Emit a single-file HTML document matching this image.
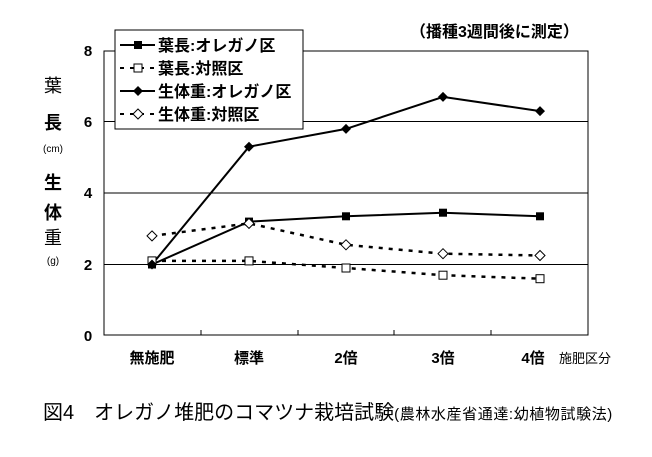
<!DOCTYPE html>
<html><head><meta charset="utf-8"><style>
body{margin:0;background:#fff;}
svg{display:block;}
text{font-family:"Liberation Sans","Noto Sans CJK JP",sans-serif;}
.b{font-weight:bold;}
</style></head><body>
<svg width="652" height="457" viewBox="0 0 652 457">
<rect width="652" height="457" fill="#fff"/>
<g stroke="#000" stroke-width="1">
<line x1="104" y1="121.5" x2="588" y2="121.5"/>
<line x1="104" y1="193" x2="588" y2="193"/>
<line x1="104" y1="264.5" x2="588" y2="264.5"/>
<rect x="104" y="51" width="484" height="284" fill="none"/>
<line x1="201" y1="335" x2="201" y2="330"/>
<line x1="298" y1="335" x2="298" y2="330"/>
<line x1="394" y1="335" x2="394" y2="330"/>
<line x1="491" y1="335" x2="491" y2="330"/>
</g>
<g class="b" font-size="15" text-anchor="middle">
<text x="88" y="56">8</text>
<text x="88" y="127">6</text>
<text x="88" y="198">4</text>
<text x="88" y="270">2</text>
<text x="88" y="341">0</text>
</g>
<g font-size="18" text-anchor="middle">
<text x="53" y="92">葉</text>
<text x="53" y="129" class="b">長</text>
<text x="53" y="152" font-size="10">(cm)</text>
<text x="53" y="189" class="b">生</text>
<text x="53" y="219" class="b">体</text>
<text x="53" y="244">重</text>
<text x="53" y="264" font-size="10">(g)</text>
</g>
<g class="b" font-size="15" text-anchor="middle">
<text x="152" y="363">無施肥</text>
<text x="249" y="363">標準</text>
<text x="346" y="363">2倍</text>
<text x="443" y="363">3倍</text>
<text x="533" y="363">4倍</text>
</g>
<text x="559" y="363" font-size="13">施肥区分</text>
<text x="410" y="37" class="b" font-size="16">（播種3週間後に測定）</text>
<g fill="none" stroke="#000" stroke-width="2">
<polyline points="152,264.5 249,221.6 346,216.3 443,212.7 540,216.3"/>
<polyline stroke-dasharray="4,6" stroke-width="2.5" points="152,260.9 249,260.9 346,268 443,275.2 540,278.7"/>
<polyline points="152,264.5 249,146.7 346,128.9 443,96.9 540,111.1"/>
<polyline stroke-dasharray="4,6" stroke-width="2.5" points="152,235.9 249,223.4 346,244.8 443,253.7 540,255.5"/>
</g>
<g fill="#000">
<rect x="148" y="260.5" width="8" height="8"/><rect x="245" y="217.6" width="8" height="8"/><rect x="342" y="212.3" width="8" height="8"/><rect x="439" y="208.7" width="8" height="8"/><rect x="536" y="212.3" width="8" height="8"/>
</g>
<g fill="#fff" stroke="#000" stroke-width="1">
<rect x="148" y="256.9" width="8" height="8"/><rect x="245" y="256.9" width="8" height="8"/><rect x="342" y="264" width="8" height="8"/><rect x="439" y="271.2" width="8" height="8"/><rect x="536" y="274.7" width="8" height="8"/>
</g>
<g fill="#000">
<polygon points="152,259.5 157,264.5 152,269.5 147,264.5"/>
<polygon points="249,141.7 254,146.7 249,151.7 244,146.7"/>
<polygon points="346,123.9 351,128.9 346,133.9 341,128.9"/>
<polygon points="443,91.9 448,96.9 443,101.9 438,96.9"/>
<polygon points="540,106.1 545,111.1 540,116.1 535,111.1"/>
</g>
<g fill="#fff" stroke="#000" stroke-width="1">
<polygon points="152,230.9 157,235.9 152,240.9 147,235.9"/>
<polygon points="249,218.4 254,223.4 249,228.4 244,223.4"/>
<polygon points="346,239.8 351,244.8 346,249.8 341,244.8"/>
<polygon points="443,248.7 448,253.7 443,258.7 438,253.7"/>
<polygon points="540,250.5 545,255.5 540,260.5 535,255.5"/>
</g>
<rect x="115" y="30" width="188" height="99" fill="#fff" stroke="#000" stroke-width="1"/>
<g stroke="#000" stroke-width="2">
<line x1="120" y1="45" x2="155" y2="45"/>
<line x1="120" y1="68" x2="155" y2="68" stroke-dasharray="4,6"/>
<line x1="120" y1="91" x2="155" y2="91"/>
<line x1="120" y1="114" x2="155" y2="114" stroke-dasharray="4,6"/>
</g>
<rect x="134" y="41" width="8" height="8" fill="#000"/>
<rect x="134" y="64" width="8" height="8" fill="#fff" stroke="#000"/>
<polygon points="138,86 143,91 138,96 133,91" fill="#000"/>
<polygon points="138,109 143,114 138,119 133,114" fill="#fff" stroke="#000"/>
<g class="b" font-size="16">
<text x="158" y="51">葉長:オレガノ区</text>
<text x="158" y="74">葉長:対照区</text>
<text x="158" y="97">生体重:オレガノ区</text>
<text x="158" y="120">生体重:対照区</text>
</g>
<text x="43" y="419" font-size="20">図4　オレガノ堆肥のコマツナ栽培試験<tspan font-size="15" letter-spacing="0.6">(農林水産省通達:幼植物試験法)</tspan></text>
</svg>
</body></html>
